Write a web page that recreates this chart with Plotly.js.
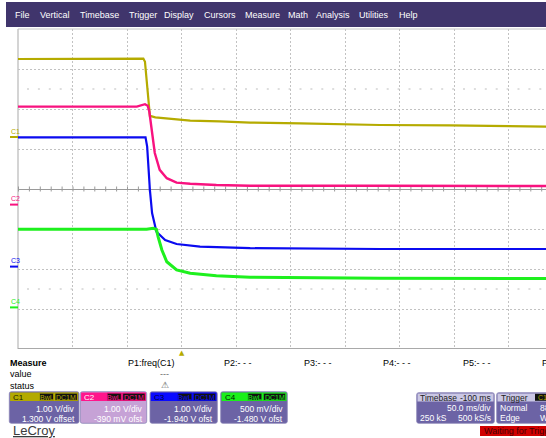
<!DOCTYPE html>
<html><head><meta charset="utf-8">
<script src="https://cdn.plot.ly/plotly-3.0.1.min.js"></script>
<style>html,body{margin:0;padding:0;background:#fff;overflow:hidden}#plot{width:546px;height:438px}</style>
</head><body><div id="plot"></div>
<script>
// ---- data (time in ms, values in volts) ----
const t1 = [-150,-35,-33.5,-32,-30.5,-29,-24,-11,8,35,63,109,182,246,335];
const c1V = [1.95,1.96,1.88,1.43,0.93,0.53,0.49,0.45,0.41,0.39,0.36,0.34,0.30,0.29,0.26];
const t2 = [-150,-41,-33.5,-31,-29.5,-27.5,-24.5,-20,-13.5,-4.5,8,32,63,182,335];
const c2V = [2.45,2.45,2.51,2.47,2.32,1.87,1.29,0.87,0.66,0.55,0.52,0.49,0.47,0.47,0.465];
const t3 = [-150,-33,-31.5,-30.5,-29,-27,-23,-15,-4.5,17,63,182,335];
const c3V = [3.23,3.23,3.00,2.50,1.92,1.34,0.87,0.665,0.565,0.50,0.46,0.44,0.44];
const t4 = [-150,-32,-26,-23,-21.5,-18,-13.5,-4.5,8,32,63,182,335];
const c4V = [0.976,0.976,0.99,0.974,0.884,0.718,0.571,0.468,0.426,0.396,0.376,0.364,0.36];

const chNames = ['C1','C2','C3','C4'];
const vPerDiv = [1.0,1.0,1.0,0.5];
const offsets = [1.3,-0.39,-1.94,-1.48];
const vdivLabels = ['1.00 V/div','1.00 V/div','1.00 V/div','500 mV/div'];
const offsetLabels = ['1.300 V offset','-390 mV ofst','-1.940 V ofst','-1.480 V ofst'];
const menuItems = ['File','Vertical','Timebase','Trigger','Display','Cursors','Measure','Math','Analysis','Utilities','Help'];
const paramLabels = ['P1:freq(C1)','P2:- - -','P3:- - -','P4:- - -','P5:- - -','P6:- - -'];
const timebase = {delay:'-100 ms', div:'50.0 ms/div', samples:'250 kS', rate:'500 kS/s'};
const trigger = {src:'C1', mode:'Normal', level:'880 mV', type:'Edge', slope:'Width'};

// ---- styling ----
const W = 546, H = 438;
const px = x => x / W, py = y => 1 - y / H;
const colors = ['#b5ab00','#f8127f','#0b0bf0','#1ef01e'];
const hdrColors = ['#b3aa00','#ff168c','#0a0aff','#1af01a'];
const hdrText = ['#1a1a00','#ffffff','#000040','#002000'];
const bodyColors = ['#6c63a5','#c6a2d6','#6c63a5','#6c63a5'];
const FONT = 'Liberation Sans, Arial, sans-serif';
const times = [t1,t2,t3,t4], vals = [c1V,c2V,c3V,c4V];
const widths = [2.2,2.4,2.2,3.0];

const traces = times.map((t,i)=>({
  type:'scatter', mode:'lines', x:t,
  y: vals[i].map(v => (v + offsets[i]) / vPerDiv[i]),
  line:{color:colors[i], width:widths[i]}, hoverinfo:'skip', showlegend:false
}));

function rr(x0,y0,x1,y1,r){ // rounded rect path in paper coords (pixel input)
  const X=px, Y=py;
  return `M${X(x0+r)},${Y(y0)} L${X(x1-r)},${Y(y0)} Q${X(x1)},${Y(y0)} ${X(x1)},${Y(y0+r)} L${X(x1)},${Y(y1-r)} Q${X(x1)},${Y(y1)} ${X(x1-r)},${Y(y1)} L${X(x0+r)},${Y(y1)} Q${X(x0)},${Y(y1)} ${X(x0)},${Y(y1-r)} L${X(x0)},${Y(y0+r)} Q${X(x0)},${Y(y0)} ${X(x0+r)},${Y(y0)} Z`;
}
function rect(x0,y0,x1,y1,fill,lc,lw){
  return {type:'rect',xref:'paper',yref:'paper',x0:px(x0),x1:px(x1),y0:py(y1),y1:py(y0),
    fillcolor:fill,line:{color:lc||fill,width:lw||0},layer:'above'};
}
function pathS(d,fill,lc,lw){return {type:'path',xref:'paper',yref:'paper',path:d,fillcolor:fill,line:{color:lc||fill,width:lw||0},layer:'above'};}
function txt(s,x,y,o){o=o||{};return {xref:'paper',yref:'paper',x:px(x),y:py(y),text:s,showarrow:false,
  xanchor:o.xa||'left',yanchor:'middle',font:{family:FONT,size:o.size||9,color:o.color||'#000'},xshift:0,yshift:0};}

const shapes = [], ann = [];
// menu bar
shapes.push(rect(6,2,546,27,'#40356c'));
const menuX = [13,38,78,127,162,202,243,286,314,357,397];
menuItems.forEach((m,i)=>ann.push(txt(m,menuX[i],15,{color:'#ffffff'})));
// plot frame
const gl = '#a9a9a9';
shapes.push({type:'line',xref:'paper',yref:'paper',x0:px(18),x1:px(18),y0:py(349),y1:py(29),line:{color:gl,width:1},layer:'below'});
shapes.push({type:'line',xref:'paper',yref:'paper',x0:px(18),x1:1,y0:py(29),y1:py(29),line:{color:'#c4c4c4',width:1},layer:'below'});
shapes.push({type:'line',xref:'paper',yref:'paper',x0:px(18),x1:1,y0:py(348.5),y1:py(348.5),line:{color:gl,width:1},layer:'below'});
// center line ticks and marker rows
shapes.push({type:'line',xref:'paper',yref:'y',x0:px(18),x1:1,y0:0,y1:0,line:{color:'#9a9a9a',width:5,dash:'1px,9.9px'},layer:'below'});
[2.5,-2.5].forEach(yv=>shapes.push({type:'line',xref:'paper',yref:'y',x0:px(18)+px(9),x1:1,y0:yv,y1:yv,line:{color:'#bdbdbd',width:1,dash:'2px,8.9px'},layer:'below'}));
// channel ground markers
chNames.forEach((c,i)=>{
  const g = offsets[i]/vPerDiv[i];
  shapes.push({type:'line',xref:'paper',yref:'y',x0:px(10),x1:px(18),y0:g,y1:g,line:{color:colors[i],width:2},layer:'above'});
  ann.push({xref:'paper',yref:'y',x:px(9),y:g,yshift:6,text:c,showarrow:false,xanchor:'left',yanchor:'middle',font:{family:FONT,size:7,color:colors[i]}});
});
// trigger marker
ann.push({xref:'x',yref:'paper',x:0,y:py(353),text:'▲',showarrow:false,xanchor:'center',yanchor:'middle',font:{family:'DejaVu Sans',size:7,color:'#b5ab00'}});
// measure area
ann.push(txt('<b>Measure</b>',8,363));
ann.push(txt('value',8,374));
ann.push(txt('status',8,385.5));
const pX = [126,222,302,381,461,540];
paramLabels.forEach((p,i)=>ann.push(txt(p,pX[i],363)));
ann.push(txt('---',158,374,{color:'#666'}));
ann.push(txt('⚠',159,385,{color:'#555',size:9,family:'DejaVu Sans'}));
// channel boxes
const bx = [[9.3,79],[80.3,146.7],[150,217.3],[220.7,287.3]];
chNames.forEach((c,i)=>{
  const [x0,x1] = bx[i];
  shapes.push(pathS(rr(x0,391.7,x1,423.3,2),bodyColors[i],'#8a84b8',0.8));
  shapes.push(rect(x0+0.8,392.5,x1-0.8,401,hdrColors[i]));
  ann.push(txt(c,x0+2,397,{color:hdrText[i],size:8}));
  // badges
  shapes.push(rect(x1-24,393.2,x1-1.6,400.4,'#111', colors[i], 0.8));
  shapes.push(rect(x1-39.5,393.2,x1-25.4,400.4,'#111', colors[i], 0.8));
  ann.push(txt('DC1M',x1-12.8,397,{xa:'center',size:7,color:hdrColors[i]}));
  ann.push(txt('BwL',x1-32.4,397,{xa:'center',size:7,color:hdrColors[i]}));
  ann.push(txt(vdivLabels[i],x1-2,409.3,{xa:'right',size:8.5,color:'#ffffff'}));
  ann.push(txt(offsetLabels[i],x1-2,419,{xa:'right',size:8.5,color:'#ffffff'}));
});
// LeCroy
ann.push(txt('<u>LeCroy</u>',11,430,{size:13,color:'#3b3b3b'}));
// timebase box
shapes.push(pathS(rr(416.7,392.7,494.3,423.3,2),'#6c63a5','#8a84b8',0.8));
shapes.push(rect(417.5,393.5,493.5,401.5,'#cac7e4'));
ann.push(txt('Timebase',418,397.5,{color:'#222',size:8.5}));
ann.push(txt(timebase.delay,493,397.5,{xa:'right',color:'#222',size:8.5}));
ann.push(txt(timebase.div,493,407.7,{xa:'right',color:'#fff',size:8.5}));
ann.push(txt(timebase.samples,418,417.5,{color:'#fff',size:8.5}));
ann.push(txt(timebase.rate,493,417.5,{xa:'right',color:'#fff',size:8.5}));
// trigger box
shapes.push(pathS(rr(496.7,392.7,570,423.3,2),'#6c63a5','#8a84b8',0.8));
shapes.push(rect(497.5,393.5,569,401.5,'#cac7e4'));
shapes.push(rect(535,393.8,552,400.8,'#111'));
ann.push(txt('Trigger',498.5,397.5,{color:'#222',size:8.5}));
ann.push(txt(trigger.src,536,397.3,{color:'#b5ab00',size:7}));
ann.push(txt(trigger.mode,498,407.7,{color:'#fff',size:8.5}));
ann.push(txt(trigger.level,537.5,407.7,{color:'#fff',size:8.5}));
ann.push(txt(trigger.type,498,417.5,{color:'#fff',size:8.5}));
ann.push(txt(trigger.slope,537.5,417.5,{color:'#fff',size:8.5}));
// waiting box
shapes.push(rect(480,426,560,436,'#d00000'));
ann.push(txt('Waiting for Trigger',481.5,431,{color:'#4a0000',size:9}));

const layout = {
  width:W, height:H, margin:{l:0,r:0,t:0,b:0}, paper_bgcolor:'#fff', plot_bgcolor:'#fff',
  showlegend:false,
  xaxis:{domain:[px(18),1], range:[-150,-150+50*(528/54.5)], tick0:-150, dtick:50,
    showgrid:true, gridcolor:'#c2c2c2', griddash:'2px,2px', gridwidth:1,
    zeroline:false, showticklabels:false, ticks:'', showline:false, fixedrange:true},
  yaxis:{domain:[py(349),py(29)], range:[-4,4], dtick:1, tick0:0,
    showgrid:true, gridcolor:'#c2c2c2', griddash:'2px,2px', gridwidth:1,
    zeroline:true, zerolinecolor:'#9a9a9a', zerolinewidth:1,
    showticklabels:false, ticks:'', showline:false, fixedrange:true},
  shapes:shapes, annotations:ann
};
Plotly.newPlot('plot', traces, layout, {staticPlot:true, displayModeBar:false});
</script></body></html>
